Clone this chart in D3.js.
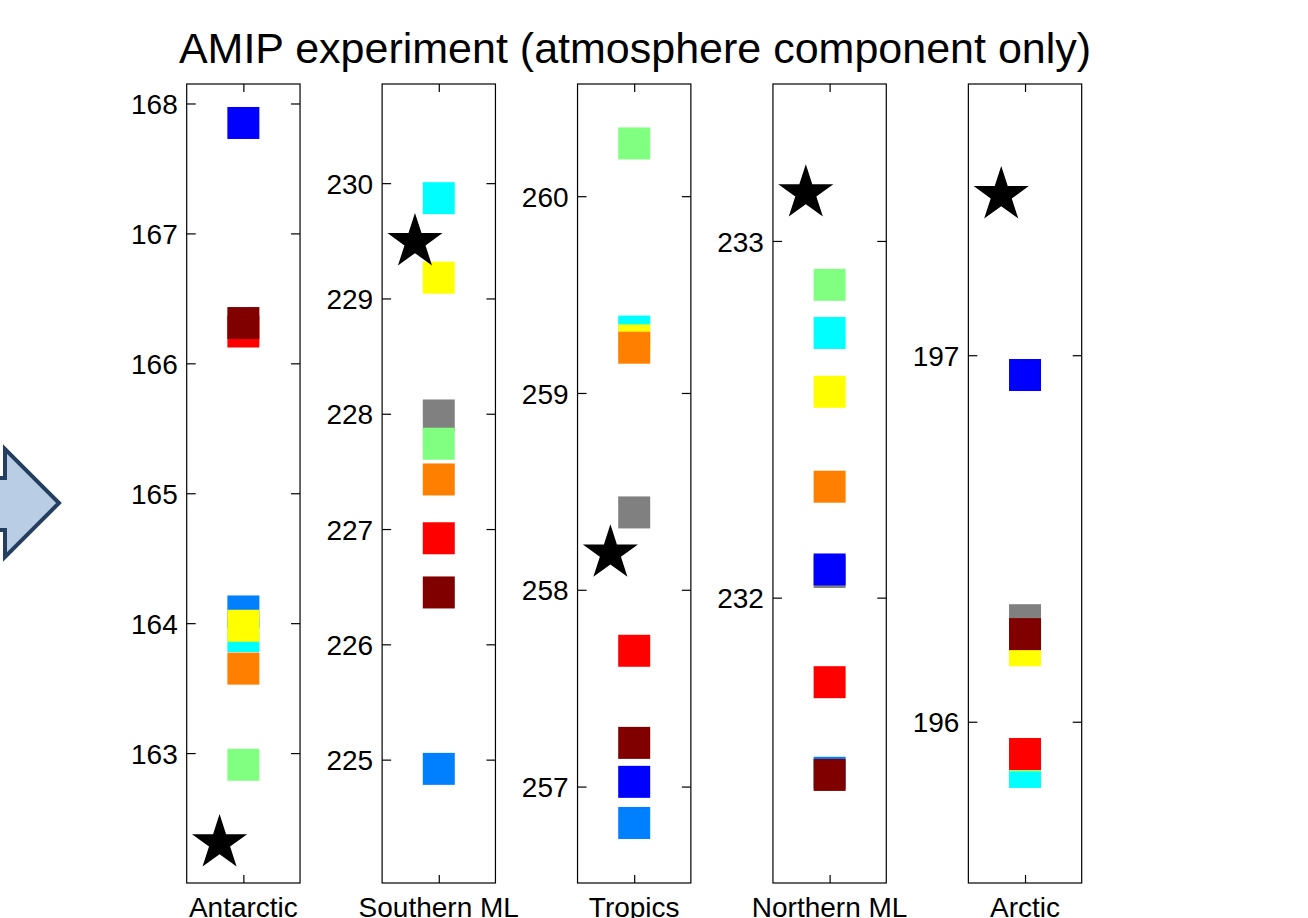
<!DOCTYPE html>
<html>
<head>
<meta charset="utf-8">
<script src="https://cdn.jsdelivr.net/npm/d3@7"></script>
<style>
  html, body { margin: 0; padding: 0; background: #ffffff; overflow: hidden; }
  svg { display: block; font-family: "Liberation Sans", Arial, Helvetica, sans-serif; }
</style>
</head>
<body>
<script>
// ---------------- data ----------------
const titleText = "AMIP experiment (atmosphere component only)";
const categories = ["Antarctic", "Southern ML", "Tropics", "Northern ML", "Arctic"];

// model series (drawing order = later ones drawn on top); null = not visible in picture
const modelNames = ["cyan", "azure", "gray", "green", "yellow", "orange", "red", "darkred", "blue"];
const cyanVals    = [163.90, 229.87, 259.312, 232.742, 195.863];
const azureVals   = [164.09, 224.92, 256.815, 231.509, null];
const grayVals    = [null,   227.985, 258.393, 232.072, 196.277];
const greenVals   = [162.91, 227.74, 260.268, 232.877, 195.907];
const yellowVals  = [163.98, 229.18, 259.267, 232.577, 196.195];
const orangeVals  = [163.65, 227.43, 259.23, 232.311, null];
const redVals     = [166.245, 226.92, 257.69, 231.763, 195.912];
const darkredVals = [166.31, 226.45, 257.222, 231.503, 196.239];
const blueVals    = [167.85, null,   257.024, 232.079, 196.946];
// observation (star)
const starVals    = [162.307, 229.489, 258.185, 233.134, 197.437];

// axis limits and tick labels per panel
const yMin = [162.0, 223.93, 256.51, 231.2, 195.56];
const yMax = [168.15, 230.86, 260.57, 233.44, 197.74];
const yTicks = [
  [163, 164, 165, 166, 167, 168],
  [225, 226, 227, 228, 229, 230],
  [257, 258, 259, 260],
  [232, 233],
  [196, 197]
];

const seriesVals = [cyanVals, azureVals, grayVals, greenVals, yellowVals, orangeVals, redVals, darkredVals, blueVals];
const colorMap = {
  cyan: "#00FFFF", azure: "#0080FF", gray: "#808080", green: "#80FF80", yellow: "#FFFF00",
  orange: "#FF8000", red: "#FF0000", darkred: "#800000", blue: "#0000FF"
};

// ---------------- layout ----------------
const W = 1308, H = 918;
const plotTop = 84, plotBottom = 883;
const sq = 32;         // square marker size
const starR = 29;      // star outer radius

const svg = d3.select("body").append("svg").attr("width", W).attr("height", H);
svg.append("rect").attr("width", W).attr("height", H).attr("fill", "#fff");

// left arrow (partially off-canvas)
svg.append("path")
  .attr("d", "M-20,478 L5,478 L5,449 L59,503 L5,557 L5,530 L-20,530 Z")
  .attr("fill", "#B9CDE5")
  .attr("stroke", "#243F60")
  .attr("stroke-width", 4)
  .attr("stroke-linejoin", "miter");

// title
svg.append("text")
  .attr("x", 635).attr("y", 63)
  .attr("text-anchor", "middle")
  .attr("font-size", 43)
  .attr("fill", "#000")
  .text(titleText);

const band = d3.scaleBand().domain(categories).range([186.7, 1081.7]).paddingInner(0.42).paddingOuter(0);

function starPath(cx, cy, R) {
  const r = R * 0.382;
  const pts = [];
  for (let k = 0; k < 10; k++) {
    const rad = (k % 2 === 0) ? R : r;
    const a = -Math.PI / 2 + k * Math.PI / 5;
    pts.push([cx + rad * Math.cos(a), cy + rad * Math.sin(a)]);
  }
  return "M" + pts.map(p => p[0].toFixed(2) + "," + p[1].toFixed(2)).join("L") + "Z";
}

categories.forEach((cat, i) => {
  const x0 = band(cat), bw = band.bandwidth();
  const x = d3.scaleLinear().domain([0.5, 1.5]).range([x0, x0 + bw]);
  const y = d3.scaleLinear().domain([yMin[i], yMax[i]]).range([plotBottom, plotTop]);
  const g = svg.append("g");

  // markers
  modelNames.forEach((m, k) => {
    const v = seriesVals[k][i];
    if (v === null || v === undefined) return;
    g.append("rect")
      .attr("x", x(1) - sq / 2).attr("y", y(v) - sq / 2)
      .attr("width", sq).attr("height", sq)
      .attr("fill", colorMap[m]);
  });
  g.append("path").attr("d", starPath(x(0.79), y(starVals[i]), starR)).attr("fill", "#000");

  // axes
  const left = g.append("g").attr("transform", `translate(${x0},0)`)
    .call(d3.axisLeft(y).tickValues(yTicks[i]).tickSize(-9).tickPadding(9).tickFormat(d3.format("d")));
  const right = g.append("g").attr("transform", `translate(${x0 + bw},0)`)
    .call(d3.axisRight(y).tickValues(yTicks[i]).tickSize(-9).tickFormat(""));
  const topA = g.append("g").attr("transform", `translate(0,${plotTop})`)
    .call(d3.axisTop(x).tickValues([1]).tickSize(-8).tickFormat(""));
  const botA = g.append("g").attr("transform", `translate(0,${plotBottom})`)
    .call(d3.axisBottom(x).tickValues([1]).tickSize(-8).tickFormat(""));
  [left, right, topA, botA].forEach(a => {
    a.select(".domain").remove();
    a.selectAll(".tick line").attr("stroke", "#000").attr("stroke-width", 1.2);
  });
  left.selectAll(".tick text")
    .attr("font-size", 28).attr("fill", "#000")
    .attr("font-family", "'Liberation Sans', Arial, sans-serif")
    .attr("dy", "0.36em");

  g.append("rect")
    .attr("x", x0).attr("y", plotTop)
    .attr("width", bw).attr("height", plotBottom - plotTop)
    .attr("fill", "none").attr("stroke", "#000").attr("stroke-width", 1.2);

  // category label
  g.append("text")
    .attr("x", x0 + bw / 2).attr("y", 917)
    .attr("text-anchor", "middle")
    .attr("font-size", 28).attr("fill", "#000")
    .text(cat);
});
</script>
</body>
</html>
